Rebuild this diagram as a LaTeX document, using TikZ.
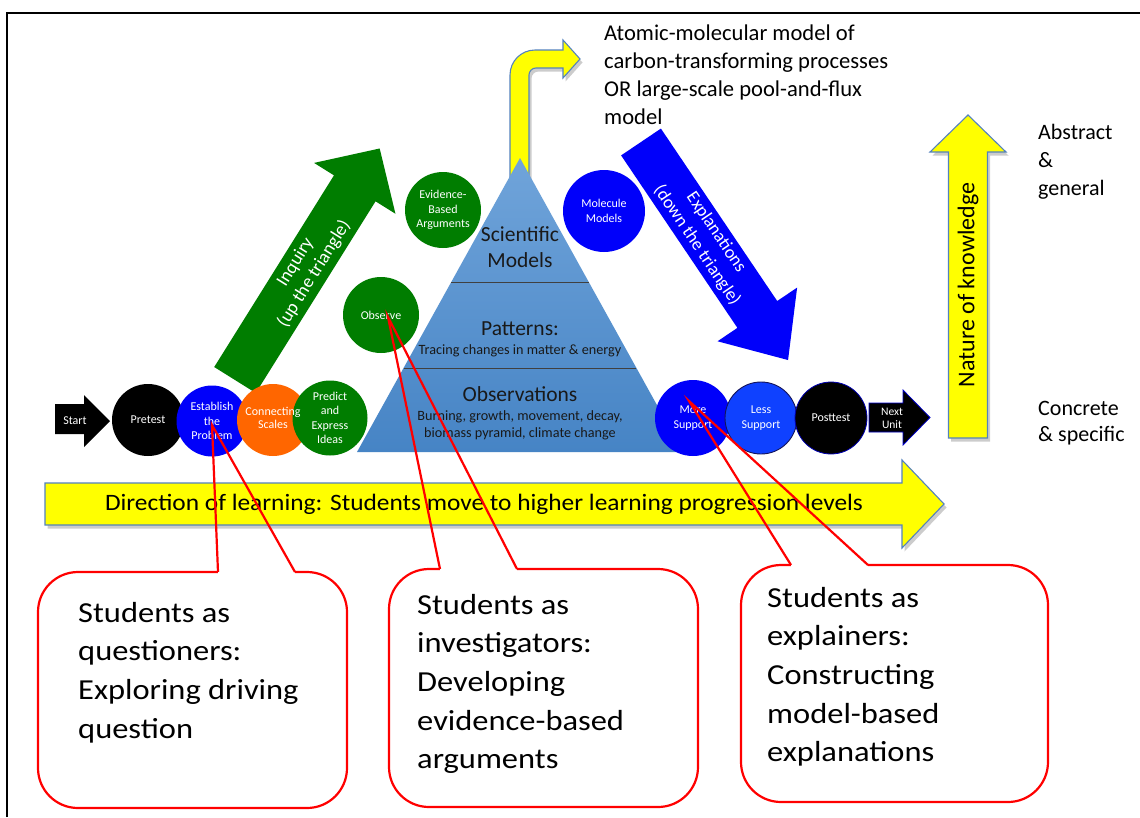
\documentclass[tikz,border=0pt]{standalone}
\usepackage{fontspec}
\setmainfont{Carlito}
\newfontfamily\stretchfont[FakeStretch=1.12]{Carlito}
\newfontfamily\dirfont[FakeStretch=1.08]{Carlito}
\usetikzlibrary{calc}
\definecolor{myyellow}{RGB}{255,255,0}
\definecolor{yedge}{RGB}{84,130,190}
\definecolor{mygreen}{RGB}{0,125,0}
\definecolor{myblue}{RGB}{0,0,250}
\definecolor{lessblue}{RGB}{15,65,255}
\definecolor{myorange}{RGB}{255,102,0}
\definecolor{tritop}{RGB}{112,164,218}
\definecolor{tribot}{RGB}{70,132,197}
\definecolor{myred}{RGB}{255,0,0}
\definecolor{navyedge}{RGB}{20,20,90}
\newcommand{\myfs}[2]{\fontsize{#1}{#2}\selectfont}
\newcommand{\mylines}[2][l]{\begin{tabular}[t]{@{}#1@{}}#2\end{tabular}}
\begin{document}
\begin{tikzpicture}[x=1pt,y=-1pt,
  circ/.style={circle, inner sep=0pt, text=white, align=center, font=\myfs{12}{14.5}},
  yarrow/.style={fill=myyellow, draw=yedge, line width=1.1pt, line join=miter,
     preaction={fill=black, opacity=0.2, draw=none, transform canvas={shift={(2.5pt,-3.5pt)}}}},
  callout/.style={draw=myred, line width=2.2pt, rounded corners=40pt, inner sep=0pt},
  tail/.style={draw=myred, line width=2.2pt, line join=miter},
  erase/.style={draw=white, line width=4pt},
  calltext/.style={anchor=base west, inner sep=0pt, font=\stretchfont\myfs{29}{38.7}},
  bigtext/.style={anchor=base west, inner sep=0pt, font=\myfs{22.6}{28}},
  tritext/.style={anchor=base, inner sep=0pt, text=black!90},
  divider/.style={draw=black!75, line width=0.8pt}
]
\useasboundingbox (0,0) rectangle (1140,817);
\fill[white] (0,0) rectangle (1140,817);
\draw[line width=1.8pt] (7,817) -- (7,13) -- (1140,13);

% green inquiry arrow
\begin{scope}[shift={(235,380)}, rotate=58]
  \fill[mygreen] (0,-24.5) -- (226,-24.5) -- (226,-48) -- (273,0) -- (226,48) -- (226,24.5) -- (0,24.5) -- cycle;
  \node[rotate=58, text=white, align=center, font=\myfs{18.5}{22}] (inquiry) at (132,0) {Inquiry\\(up the triangle)};
\end{scope}

% blue explanations arrow
\begin{scope}[shift={(641,142)}, rotate=-56]
  \fill[myblue] (0,-24) -- (208,-24) -- (208,-48) -- (263,0) -- (208,48) -- (208,24) -- (0,24) -- cycle;
  \node[rotate=-56, text=white, align=center, font=\myfs{18}{23}] (explan) at (117,0) {Explanations\\(down the triangle)};
\end{scope}

% bent yellow arrow
\draw[yarrow] (510,200) -- (510,75) arc[start angle=180, end angle=270, radius=25] -- (563,50) -- (563,40) -- (580,59) -- (563,78) -- (563,68) -- (536,68) arc[start angle=270, end angle=180, radius=7] -- (529,200) -- cycle;
\node[bigtext] (atomic) at (604,40) {\mylines{Atomic-molecular model of\\carbon-transforming processes\\OR large-scale pool-and-flux\\model}};

% pyramid
\shade[top color=tritop, bottom color=tribot] (520,158) -- (683,452) -- (357,452) -- cycle;
\draw[divider] (451.3,282) -- (588.7,282);
\draw[divider] (403.6,368) -- (636.4,368);
\node[tritext, font=\myfs{21.5}{26}] (sci) at (520,241) {\mylines[c]{Scientific\\Models}};
\node[tritext, font=\myfs{21.5}{26}] (pat) at (520,335) {Patterns:};
\node[tritext, font=\myfs{14.2}{17}] (tracing) at (520,354) {Tracing changes in matter \& energy};
\node[tritext, font=\myfs{21.5}{26}] (obs) at (520,401) {Observations};
\node[tritext, font=\myfs{14.2}{17}] (burn) at (520,420) {\mylines[c]{Burning, growth, movement, decay,\\biomass pyramid, climate change}};

% start arrow
\fill[black] (55,404) -- (84,404) -- (84,395) -- (110,421) -- (84,447) -- (84,434) -- (55,434) -- cycle;
\node[text=white, font=\myfs{12}{14}] (start) at (75,421) {Start};

% left circles
\node[circ, fill=black, minimum size=72pt] (pretest) at (148,420) {Pretest};
\node[circ, fill=myblue, minimum size=71pt] (establish) at (212,421) {Establish\\the\\Problem};
\node[circ, fill=myorange, minimum size=72pt] (connecting) at (273,420) {};
\node[circ, fill=mygreen, minimum size=75pt] (predict) at (330,418) {Predict\\and\\Express\\Ideas};
\node[text=white, align=center, font=\myfs{12}{13.5}] (conntext) at (273,418) {Connecting\\Scales};

% upper circles
\node[circ, fill=mygreen, minimum size=76pt] (evidence) at (443,210) {Evidence-\\Based\\Arguments};
\node[circ, fill=mygreen, minimum size=76pt] (observe) at (381,315) {Observe};
\node[circ, fill=myblue, minimum size=82pt] (molecule) at (604,211) {Molecule\\Models};

% right circles
\node[circ, fill=myblue, minimum size=76pt] (moresup) at (693,418) {More\\Support};
\node[circ, fill=lessblue, draw=navyedge, line width=0.9pt, minimum size=72pt] (lesssup) at (761,418) {Less\\Support};
\node[circ, fill=black, draw=blue!70!black, line width=0.8pt, minimum size=72pt] (posttest) at (831,418) {Posttest};

% next unit arrow
\draw[fill=black, draw=blue!80!black, line width=0.8pt, line join=miter] (869,403) -- (903,403) -- (903,390) -- (930,417.5) -- (903,445) -- (903,432) -- (869,432) -- cycle;
\node[text=white, align=center, font=\myfs{11.5}{13}] (nextunit) at (892,418) {Next\\Unit};

% vertical yellow arrow
\draw[yarrow] (948.5,438) -- (948.5,152) -- (930,152) -- (968,115) -- (1006,152) -- (987.5,152) -- (987.5,438) -- cycle;
\node[rotate=90, font=\myfs{24}{28}] (nature) at (968,285) {Nature of knowledge};
\node[bigtext, font=\myfs{22}{28}] (abstract) at (1038,139) {\mylines{Abstract\\\&\\general}};
\node[bigtext, font=\myfs{22}{26}] (concrete) at (1038,415) {\mylines{Concrete\\\& specific}};

% horizontal yellow arrow
\draw[yarrow] (45,483) -- (902,483) -- (902,460) -- (944,504) -- (902,548) -- (902,525) -- (45,525) -- cycle;
\node[font=\dirfont\myfs{23.5}{26}] (dirtext) at (484,504) {Direction of learning: Students move to higher learning progression levels};

% callout 1
\node[callout, minimum width=309pt, minimum height=236pt] (call1) at (192.5,690) {};
\coordinate (t1a) at (218,572); \coordinate (t1b) at (295,572);
\coordinate (tip1) at (212,425);
\draw[erase] (t1a) -- (t1b);
\draw[tail] (t1a) -- (tip1) -- (t1b);
\node[calltext] (call1text) at (78,622) {\mylines{Students as\\questioners:\\Exploring driving\\question}};

% callout 2
\node[callout, minimum width=309pt, minimum height=238pt] (call2) at (543.5,688) {};
\coordinate (t2a) at (440,569); \coordinate (t2b) at (517,569);
\coordinate (tip2) at (388,317);
\draw[erase] (t2a) -- (t2b);
\draw[tail] (t2a) -- (tip2) -- (t2b);
\node[calltext] (call2text) at (417,614) {\mylines{Students as\\investigators:\\Developing\\evidence-based\\arguments}};

% callout 3
\node[callout, minimum width=307pt, minimum height=237pt] (call3) at (894.5,683.5) {};
\coordinate (t3a) at (791,565); \coordinate (t3b) at (868,565);
\coordinate (tip3) at (689,401);
\draw[erase] (t3a) -- (t3b);
\draw[tail] (t3a) -- (tip3) -- (t3b);
\node[calltext] (call3text) at (767,607) {\mylines{Students as\\explainers:\\Constructing\\model-based\\explanations}};
\end{tikzpicture}
\end{document}
